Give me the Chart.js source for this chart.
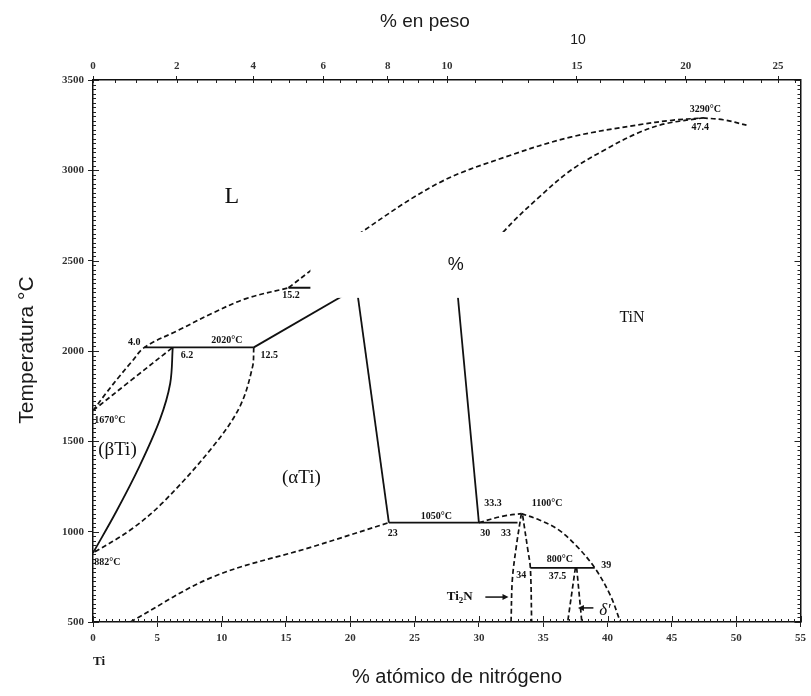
<!DOCTYPE html>
<html>
<head>
<meta charset="utf-8">
<script src="https://cdn.jsdelivr.net/npm/chart.js@4.4.1/dist/chart.umd.min.js"></script>
<style>
  html, body { margin: 0; padding: 0; background: #fff; }
  canvas { display: block; }
</style>
</head>
<body>
<canvas id="chart" width="811" height="696"></canvas>
<script>
// tick labels
const atTicksStep = 5;
const tempTicksStep = 500;
const wtTicks = [0, 2, 4, 6, 8, 10, 15, 20, 25];

// phase boundaries, [at.% N, temperature °C]
// dashed lines
const liquidusLow = [[0, 1670], [1, 1765], [2, 1855], [3, 1940], [4, 2020], [6.7, 2117], [9.3, 2210], [11.9, 2290], [15.2, 2350]];
const liquidusHigh = [[15.2, 2350], [17, 2449], [20.9, 2659], [26.9, 2931], [32.1, 3075], [37.2, 3185], [42.4, 3252], [45, 3277], [47.4, 3290]];
const tinLeft = [[28.3, 2350], [31.9, 2659], [34.7, 2853], [37.2, 3003], [39.8, 3114], [42.4, 3208], [44.5, 3258], [47.4, 3290]];
const tinRight = [[47.4, 3290], [49, 3280], [50.8, 3250]];
const betaSolidus = [[0, 1670], [3, 1840], [6.2, 2020]];
const alphaTransus = [[12.5, 2020], [12.4, 1912], [11.4, 1690], [9.3, 1469], [5.4, 1159], [2.9, 1009], [0, 882]];
const alphaSolvus = [[2.9, 500], [9.3, 749], [17, 915], [23, 1050]];
const ti2nTop = [[30, 1050], [31.8, 1085], [33.3, 1100]];
const deltaDome = [[33.3, 1100], [34.7, 1065], [36.2, 1010], [37.6, 920], [39, 800], [40.2, 650], [41, 500]];
const ti2nLeft = [[33.3, 1100], [32.9, 915], [32.6, 735], [32.5, 500]];
const ti2nRight = [[33.4, 1090], [33.8, 900], [34, 800], [34.1, 500]];
const deltaLeft = [[37.5, 800], [36.9, 500]];
const deltaRight = [[37.6, 800], [38, 500]];
// solid lines
const betaTransus = [[6.2, 2020], [6.0, 1820], [5.2, 1620], [3.6, 1360], [1.8, 1110], [0, 882]];
const peritectic2020 = [[4, 2020], [12.5, 2020]];
const alphaSolidus = [[12.5, 2020], [20.5, 2350]];
const peritectic2350 = [[15.2, 2350], [28.3, 2350]];
const alphaRight = [[20.5, 2350], [23, 1050]];
const tinSolvus = [[28.3, 2350], [30, 1050]];
const line1050 = [[23, 1050], [33, 1050]];
const line800 = [[34, 800], [39, 800]];

const dashedLines = [liquidusLow, liquidusHigh, tinLeft, tinRight, betaSolidus, alphaTransus,
  alphaSolvus, ti2nTop, deltaDome, ti2nLeft, ti2nRight, deltaLeft, deltaRight];
const solidLines = [betaTransus, peritectic2020, alphaSolidus, peritectic2350, alphaRight,
  tinSolvus, line1050, line800];

// wt.% N -> at.% N
function wtToAt(w) {
  const nN = w / 14.007, nTi = (100 - w) / 47.867;
  return 100 * nN / (nN + nTi);
}

function makeSet(pts, dashed) {
  return {
    data: pts.map(p => ({ x: p[0], y: p[1] })),
    showLine: true,
    pointRadius: 0,
    borderColor: '#111',
    borderWidth: dashed ? 1.7 : 1.8,
    borderDash: dashed ? [5, 3] : [],
    tension: pts.length > 2 ? 0.35 : 0,
    fill: false
  };
}

const serif = 'Liberation Serif';
const sans = 'Liberation Sans';
const small = 'bold 10px ' + serif;

// annotations in data coordinates
const notes = [
  { t: 'L', x: 10.8, y: 2853, f: '24px ' + serif },
  { t: 'TiN', x: 41.9, y: 2183, f: '16px ' + serif },
  { t: '(\u03b2Ti)', x: 1.9, y: 1452, f: '19px ' + serif },
  { t: '(\u03b1Ti)', x: 16.2, y: 1297, f: '19px ' + serif },
  { t: '1670\u00b0C', x: 0.1, y: 1618, f: small, a: 'left' },
  { t: '882\u00b0C', x: 0.1, y: 832, f: small, a: 'left' },
  { t: '4.0', x: 3.2, y: 2045, f: small },
  { t: '2020\u00b0C', x: 10.4, y: 2056, f: small },
  { t: '6.2', x: 7.3, y: 1973, f: small },
  { t: '12.5', x: 13.7, y: 1973, f: small },
  { t: '15.2', x: 15.4, y: 2305, f: small },
  { t: '23', x: 23.3, y: 993, f: small },
  { t: '1050\u00b0C', x: 26.7, y: 1087, f: small },
  { t: '30', x: 30.5, y: 993, f: small },
  { t: '33', x: 32.1, y: 993, f: small },
  { t: '33.3', x: 31.1, y: 1159, f: small },
  { t: '1100\u00b0C', x: 35.3, y: 1159, f: small },
  { t: '800\u00b0C', x: 36.3, y: 845, f: small },
  { t: '37.5', x: 36.1, y: 752, f: small },
  { t: '34', x: 33.3, y: 760, f: small },
  { t: '39', x: 39.9, y: 815, f: small },
  { t: '3290\u00b0C', x: 47.6, y: 3335, f: small },
  { t: '47.4', x: 47.2, y: 3235, f: small },
  { t: '\u03b4\u2032', x: 39.8, y: 566, f: 'italic 17px ' + serif }
];

const overlay = {
  id: 'overlay',
  afterDraw(chart) {
    const { ctx, chartArea: ca, scales } = chart;
    const sx = scales.x, sy = scales.y;
    const px = v => sx.getPixelForValue(v), py = v => sy.getPixelForValue(v);
    ctx.save();

    // minor ticks, inward
    ctx.strokeStyle = '#222';
    ctx.lineWidth = 1;
    ctx.beginPath();
    for (let v = 0; v <= 55.001; v += 0.5) {
      const len = Math.abs(v % 5) < 0.01 ? 6 : 3;
      const x = Math.round(px(v)) + 0.5;
      ctx.moveTo(x, ca.bottom); ctx.lineTo(x, ca.bottom - len);
    }
    for (let w = 0; w <= 26.001; w += (w < 10 ? 0.5 : 1)) {
      const at = wtToAt(w);
      if (at > 55) break;
      const x = Math.round(px(at)) + 0.5;
      ctx.moveTo(x, ca.top); ctx.lineTo(x, ca.top + 3);
    }
    for (let t = 500; t <= 3500; t += 25) {
      const len = t % 500 === 0 ? 6 : 3;
      const y = Math.round(py(t)) + 0.5;
      ctx.moveTo(ca.left, y); ctx.lineTo(ca.left + len, y);
      ctx.moveTo(ca.right, y); ctx.lineTo(ca.right - len, y);
    }
    ctx.stroke();

    // white patch covering part of the diagram
    const p0x = px(16.9), p1x = px(33.1), p0y = py(2659), p1y = py(2294);
    ctx.fillStyle = '#fff';
    ctx.fillRect(p0x, p0y, p1x - p0x, p1y - p0y);
    ctx.fillStyle = '#111';
    ctx.font = '18px ' + sans;
    ctx.textAlign = 'center';
    ctx.textBaseline = 'middle';
    ctx.fillText('%', px(28.2), py(2477));

    // annotations
    notes.forEach(n => {
      ctx.font = n.f;
      ctx.textAlign = n.a || 'center';
      ctx.fillText(n.t, px(n.x), py(n.y));
    });

    // Ti2N with subscript and arrow
    ctx.font = 'bold 13px ' + serif;
    ctx.textAlign = 'left';
    let x0 = px(27.5), y0 = py(638);
    ctx.fillText('Ti', x0, y0);
    x0 += ctx.measureText('Ti').width;
    ctx.font = 'bold 9px ' + serif;
    ctx.fillText('2', x0, y0 + 4);
    x0 += ctx.measureText('2').width;
    ctx.font = 'bold 13px ' + serif;
    ctx.fillText('N', x0, y0);
    drawArrow(ctx, px(30.5), py(638), px(32.3), py(638));
    drawArrow(ctx, px(38.9), py(578), px(37.7), py(578));

    // titles
    ctx.fillStyle = '#1a1a1a';
    ctx.font = '19px ' + sans;
    ctx.textAlign = 'center';
    ctx.fillText('% en peso', 425, 22);
    ctx.font = '14px ' + sans;
    ctx.fillText('10', 578, 40);
    ctx.font = '20px ' + sans;
    ctx.fillText('% at\u00f3mico de nitr\u00f3geno', 457, 677);
    ctx.font = 'bold 13px ' + serif;
    ctx.fillText('Ti', 99, 662);
    ctx.save();
    ctx.translate(27, 350);
    ctx.rotate(-Math.PI / 2);
    ctx.font = '21px ' + sans;
    ctx.fillText('Temperatura \u00b0C', 0, 0);
    ctx.restore();

    ctx.restore();
  }
};

function drawArrow(ctx, x1, y1, x2, y2) {
  const dir = Math.sign(x2 - x1);
  ctx.beginPath();
  ctx.lineWidth = 1.5;
  ctx.strokeStyle = '#111';
  ctx.moveTo(x1, y1); ctx.lineTo(x2 - dir * 4, y2);
  ctx.stroke();
  ctx.beginPath();
  ctx.moveTo(x2, y2);
  ctx.lineTo(x2 - dir * 6, y2 - 3);
  ctx.lineTo(x2 - dir * 6, y2 + 3);
  ctx.closePath();
  ctx.fill();
}

const tickFont = { family: serif, size: 11, weight: 'bold' };
const tickColor = '#333';
const axisGrid = { drawOnChartArea: false, tickLength: 5, color: '#222' };
const axisBorder = { color: '#111', width: 1.5 };
const plain = v => String(v);

new Chart(document.getElementById('chart'), {
  type: 'scatter',
  data: {
    datasets: [
      ...dashedLines.map(d => makeSet(d, true)),
      ...solidLines.map(d => makeSet(d, false))
    ]
  },
  options: {
    responsive: false,
    animation: false,
    events: [],
    layout: { padding: 0 },
    plugins: { legend: { display: false }, tooltip: { enabled: false } },
    scales: {
      x: {
        type: 'linear', position: 'bottom', min: 0, max: 55,
        ticks: { stepSize: atTicksStep, font: tickFont, color: tickColor, padding: 5, maxRotation: 0, autoSkip: false, callback: plain },
        grid: axisGrid, border: axisBorder,
        afterFit: s => { s.height = 74; }
      },
      xTop: {
        type: 'linear', position: 'top', min: 0, max: 55,
        afterBuildTicks: s => { s.ticks = wtTicks.map(w => ({ value: wtToAt(w) })); },
        ticks: { font: tickFont, color: tickColor, padding: 3, maxRotation: 0, autoSkip: false,
          callback: (v, i) => String(wtTicks[i]) },
        grid: { drawOnChartArea: false, tickLength: 4, color: '#222' }, border: axisBorder,
        afterFit: s => { s.height = 80; }
      },
      y: {
        type: 'linear', position: 'left', min: 500, max: 3500,
        ticks: { stepSize: tempTicksStep, font: tickFont, color: tickColor, padding: 4, callback: plain },
        grid: axisGrid, border: axisBorder,
        afterFit: s => { s.width = 93; }
      },
      yRight: {
        type: 'linear', position: 'right', min: 500, max: 3500,
        ticks: { display: false, stepSize: tempTicksStep },
        grid: { drawOnChartArea: false, drawTicks: false }, border: axisBorder,
        afterFit: s => { s.width = 8; }
      }
    }
  },
  plugins: [overlay]
});
</script>
</body>
</html>
